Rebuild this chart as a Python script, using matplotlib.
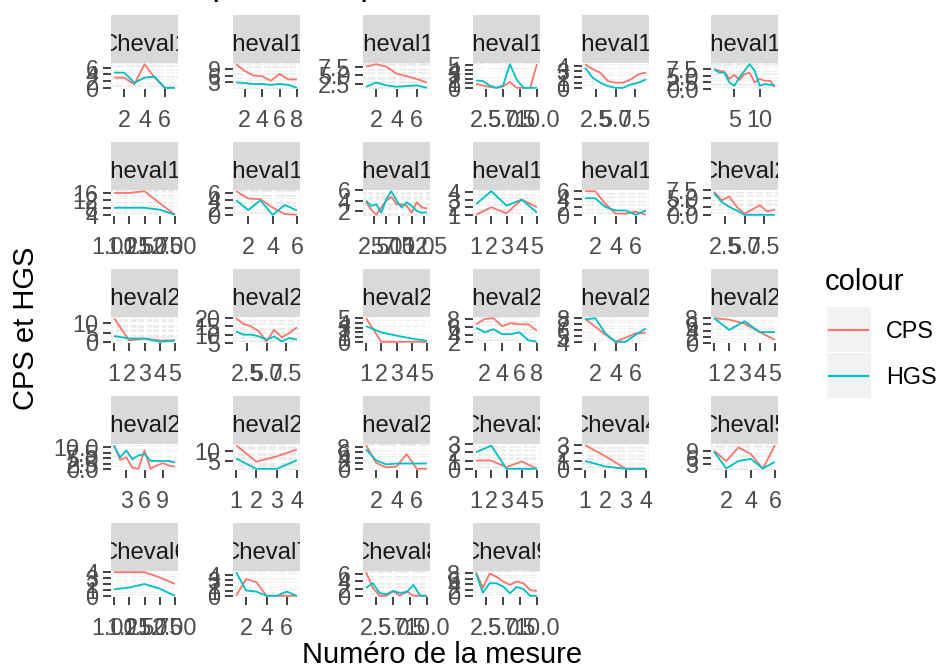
import matplotlib
matplotlib.use("Agg")
import matplotlib.pyplot as plt
from matplotlib.ticker import AutoMinorLocator, NullFormatter
from matplotlib.patches import Rectangle

plt.rcParams['font.family'] = ['Liberation Sans', 'DejaVu Sans']

# ---------------- data ----------------
chevaux = ["Cheval1", "Cheval10", "Cheval11", "Cheval12", "Cheval13", "Cheval14",
           "Cheval15", "Cheval16", "Cheval17", "Cheval18", "Cheval19", "Cheval2",
           "Cheval20", "Cheval21", "Cheval22", "Cheval23", "Cheval24", "Cheval25",
           "Cheval26", "Cheval27", "Cheval28", "Cheval3", "Cheval4", "Cheval5",
           "Cheval6", "Cheval7", "Cheval8", "Cheval9"]

mesures = [
    [1, 2, 3, 4, 5, 6, 7],
    [1, 2, 3, 4, 5, 6, 7, 8],
    [1, 2, 3, 4, 5, 6, 7],
    [1, 2, 3, 4, 5, 6, 7, 8, 9, 10],
    [1, 2, 3, 4, 5, 6, 7, 8, 9],
    [1, 2, 3, 4, 5, 6, 7, 8, 9, 10, 11, 12, 13],
    [1, 1.25, 1.5, 1.75, 2],
    [1, 2, 3, 4, 5, 6],
    [1, 2, 3, 4, 5, 6, 7, 8, 9, 10, 11, 12, 13],
    [1, 2, 3, 4, 5],
    [1, 2, 3, 4, 5, 6, 7],
    [1, 2, 3, 4, 5, 6, 7, 8, 9],
    [1, 2, 3, 4, 5],
    [1, 2, 3, 4, 5, 6, 7, 8, 9],
    [1, 2, 3, 4, 5],
    [1, 2, 3, 4, 5, 6, 7, 8],
    [1, 2, 3, 4, 5, 6, 7],
    [1, 2, 3, 4, 5],
    [1, 2, 3, 4, 5, 6, 7, 8, 9, 10, 11],
    [1, 2, 3, 4],
    [1, 2, 3, 4, 5, 6, 7],
    [1, 2, 3, 4, 5],
    [1, 2, 3, 4],
    [1, 2, 3, 4, 5, 6],
    [1, 1.25, 1.5, 1.75, 2],
    [1, 2, 3, 4, 5, 6, 7],
    [1, 2, 3, 4, 5, 6, 7, 8, 9, 10],
    [1, 2, 3, 4, 5, 6, 7, 8, 9, 10],
]

cps = [
    [3, 3, 1, 7, 3, 0, 0],
    [11, 8, 6, 5.7, 3.7, 6.7, 4.3, 4.3],
    [7.5, 8.2, 7.5, 5.5, 4.8, 4, 3],
    [0.9, 0.5, 0.2, 0, 0.3, 1.3, 0, 0, 0, 5.2],
    [4.3, 3.4, 2.8, 1.3, 1, 1, 1.6, 2.5, 2.8],
    [7.5, 6.9, 6.6, 3.8, 5.4, 3.4, 5.6, 6.2, 2.5, 3.8, 3.1, 3.1, 0.9],
    [16, 16, 17, 10.5, 4.2],
    [6.5, 4.5, 4.3, 2, 0.2, 0],
    [3.7, 2.3, 1.3, 2.7, 4, 4.7, 3.3, 3.3, 3, 1.7, 3.7, 2.7, 2.5],
    [1, 2, 1.2, 3, 2],
    [6, 6, 2.8, 0.3, 0.3, 0.8, 0],
    [7, 4.4, 5.5, 2.4, 0.3, 1.6, 2.9, 1, 1.6],
    [12.5, 1, 2, 1, 1],
    [20, 16.5, 15, 12, 6, 13, 8.5, 11, 14.5],
    [5, 0, 0, 0, 0],
    [6.7, 8.1, 8.3, 6.2, 7, 6.7, 6.7, 5],
    [7.9, 6.6, 5.3, 4.1, 4.8, 5.5, 5.6],
    [8, 7.5, 6.2, 3.5, 1],
    [10.8, 4.3, 5.4, 0.8, 0.3, 8.5, 0.3, 1.8, 2.8, 1.8, 1.2],
    [12.5, 4.8, 7.3, 10.5],
    [8.5, 2.1, 0.5, 0.8, 5.3, 0, 0],
    [1, 1, 0.2, 0.9, 0],
    [3, 1.6, 0, 0],
    [9.1, 4.4, 10.6, 7.7, 0.9, 11.6],
    [4, 4, 4, 3.1, 2],
    [0, 3.2, 2.6, 0, 0, 0, 0],
    [6.5, 2.2, 0, 0, 1.3, 0, 1.3, 0, 0, 0],
    [8.3, 2.8, 7.8, 6.7, 5, 3.9, 5, 4.4, 2, 1.7],
]

hgs = [
    [4.5, 4.5, 1.5, 3, 3.3, 0, 0],
    [3, 2.7, 2.3, 2.3, 1.9, 2.3, 1.9, 0.6],
    [1.8, 3, 2.2, 1.8, 2, 2.2, 1.5],
    [1.6, 1.5, 0.5, 0, 0.5, 5.2, 1.8, 0, 0, 0],
    [3.7, 1.9, 1, 0.4, 0.1, 0.1, 0.7, 1, 1.6],
    [7.5, 6.2, 6.2, 2.5, 1.2, 4.4, 6.9, 9.4, 6.9, 1.2, 1.9, 1.6, 1.2],
    [8, 8, 8, 7, 4.2],
    [4, 1.3, 4, 0, 2.7, 1.2],
    [4, 3, 3.3, 1.7, 4.3, 5.8, 4, 2.7, 3.7, 3, 2, 1.7, 1.8],
    [2.4, 4.1, 2.2, 3, 1.3],
    [4.2, 4.2, 2, 1.1, 1.1, 0, 1.1],
    [6.5, 3.9, 2.4, 1.3, 0, 0, 0, 0, 0],
    [3.3, 2, 2, 0.3, 1],
    [12, 10, 10, 9, 7, 9, 6, 8, 7],
    [3.3, 2, 1.3, 0.7, 0.2],
    [5.8, 4.6, 5.4, 4.1, 4.1, 4.6, 2.5, 2.1],
    [7.8, 8, 5.5, 4.1, 4.1, 5.3, 6.3],
    [8, 4.2, 7, 3.5, 3.5],
    [10.5, 5.4, 8.5, 4.6, 6.2, 6.9, 3.8, 3.8, 3.8, 3.8, 3.1],
    [6.3, 1.5, 1.5, 5.5],
    [7, 3, 1.6, 1.9, 1.9, 1.9, 1.9],
    [2, 2.8, 0, 0, 0],
    [1, 0.3, 0, 0],
    [8.7, 1.1, 4.4, 5.4, 1.1, 4],
    [1.1, 1.4, 2, 1.2, 0],
    [4.5, 1, 0.8, 0, 0, 0.8, 0],
    [2.2, 3.5, 0.8, 0.4, 1.3, 0.8, 1, 3, 0, 0],
    [7.8, 1.1, 4.4, 4.4, 3.3, 0.9, 3.1, 2.4, 0, 0],
]

x_breaks = [
    [2, 4, 6], [2, 4, 6, 8], [2, 4, 6], [2.5, 5, 7.5, 10], [2.5, 5, 7.5], [5, 10],
    [1, 1.25, 1.5, 1.75, 2], [2, 4, 6], [2.5, 5, 7.5, 10, 12.5], [1, 2, 3, 4, 5], [2, 4, 6], [2.5, 5, 7.5],
    [1, 2, 3, 4, 5], [2.5, 5, 7.5], [1, 2, 3, 4, 5], [2, 4, 6, 8], [2, 4, 6], [1, 2, 3, 4, 5],
    [3, 6, 9], [1, 2, 3, 4], [2, 4, 6], [1, 2, 3, 4, 5], [1, 2, 3, 4], [2, 4, 6],
    [1, 1.25, 1.5, 1.75, 2], [2, 4, 6], [2.5, 5, 7.5, 10], [2.5, 5, 7.5, 10],
]

y_breaks = [
    [0, 2, 4, 6], [3, 6, 9], [2.5, 5, 7.5], [0, 1, 2, 3, 4, 5], [0, 1, 2, 3, 4], [0, 2.5, 5, 7.5],
    [4, 8, 12, 16], [0, 2, 4, 6], [2, 4, 6], [1, 2, 3, 4], [0, 2, 4, 6], [0, 2.5, 5, 7.5],
    [0, 5, 10], [5, 10, 15, 20], [0, 1, 2, 3, 4, 5], [2, 4, 6, 8], [4, 5, 6, 7, 8], [0, 2, 4, 6, 8],
    [0, 2.5, 5, 7.5, 10], [5, 10], [0, 2, 4, 6, 8], [0, 1, 2, 3], [0, 1, 2, 3], [3, 6, 9],
    [0, 1, 2, 3, 4], [0, 1, 2, 3, 4], [0, 2, 4, 6], [0, 2, 4, 6, 8],
]

series_labels = ["CPS", "HGS"]
series_colors = ["#F8766D", "#00BFC4"]

# ---------------- layout (pixels) ----------------
W, H = 942, 668
col_left = [111, 233, 363, 473, 582, 711]
panel_w = 67
strip_top0, row_pitch = 15, 127
strip_h, panel_h = 48, 26

SMALL = 16.8
BIG = 21

fig = plt.figure(figsize=(W / 100, H / 100), dpi=100, facecolor="white")

# overlay for titles / legend
ov = fig.add_axes([0, 0, 1, 1])
ov.set_xlim(0, W)
ov.set_ylim(H, 0)
ov.axis("off")


def fmt(vals):
    d = 0
    for d in range(0, 4):
        if all(abs(round(v, d) - v) < 1e-9 for v in vals):
            break
    return [f"{v:.{d}f}" for v in vals]


def lims(vals):
    lo, hi = min(vals), max(vals)
    r = hi - lo if hi > lo else 1.0
    return lo - 0.05 * r, hi + 0.05 * r


for i, name in enumerate(chevaux):
    r, c = divmod(i, 6)
    st = strip_top0 + r * row_pitch
    pt = st + strip_h
    x0 = col_left[c]

    # strip
    sax = fig.add_axes([x0 / W, 1 - pt / H, panel_w / W, strip_h / H])
    sax.set_facecolor("#D9D9D9")
    sax.set_xticks([])
    sax.set_yticks([])
    for s in sax.spines.values():
        s.set_visible(False)
    sax.text(0.5, 0.25, name, ha="center", va="baseline", fontsize=SMALL + 0.4,
             color="#1A1A1A", transform=sax.transAxes, clip_on=True)

    # panel
    ax = fig.add_axes([x0 / W, 1 - (pt + panel_h) / H, panel_w / W, panel_h / H])
    ax.set_facecolor("#EBEBEB")
    for s in ax.spines.values():
        s.set_visible(False)
    xs = mesures[i]
    ax.plot(xs, cps[i], color=series_colors[0], lw=1.3, solid_capstyle="butt")
    ax.plot(xs, hgs[i], color=series_colors[1], lw=1.3, solid_capstyle="butt")
    ax.set_xlim(*lims(xs))
    ax.set_ylim(*lims(cps[i] + hgs[i]))
    ax.set_xticks(x_breaks[i])
    ax.set_xticklabels(fmt(x_breaks[i]))
    ax.set_yticks(y_breaks[i])
    ax.set_yticklabels(fmt(y_breaks[i]))
    ax.xaxis.set_minor_locator(AutoMinorLocator(2))
    ax.yaxis.set_minor_locator(AutoMinorLocator(2))
    ax.xaxis.set_minor_formatter(NullFormatter())
    ax.yaxis.set_minor_formatter(NullFormatter())
    ax.tick_params(which="minor", length=0)
    ax.tick_params(axis="x", which="major", length=6, width=1.3, color="#333333",
                   labelsize=SMALL, labelcolor="#4D4D4D", pad=8.5)
    ax.tick_params(axis="y", which="major", length=6, width=1.3, color="#333333",
                   labelsize=SMALL, labelcolor="#4D4D4D", pad=3)
    ax.grid(which="major", color="white", lw=2.0)
    ax.grid(which="minor", color="white", lw=1.0)
    ax.set_axisbelow(True)

# titles
ov.text(6, -5, "CPS et HGS pour chaque cheval", fontsize=25.2, ha="left",
        va="baseline", color="black")
ov.text(442, 663, "Numéro de la mesure", fontsize=BIG, ha="center", va="baseline",
        color="black")
ov.text(26, 328, "CPS et HGS", fontsize=BIG, ha="center", va="center",
        rotation=90, color="black")

# legend
ov.text(825, 290, "colour", fontsize=BIG, ha="left", va="baseline", color="black")
key_tops = [307, 353]
for lab, col, kt in zip(series_labels, series_colors, key_tops):
    ov.add_patch(Rectangle((827, kt), 44, 45, facecolor="#F2F2F2", edgecolor="none"))
    ov.plot([829, 868], [kt + 22.5, kt + 22.5], color=col, lw=1.6)
    ov.text(886, kt + 22.5 + 8.4, lab, fontsize=SMALL, ha="left", va="baseline",
            color="black")

fig.savefig("out.png", dpi=100, facecolor="white")
